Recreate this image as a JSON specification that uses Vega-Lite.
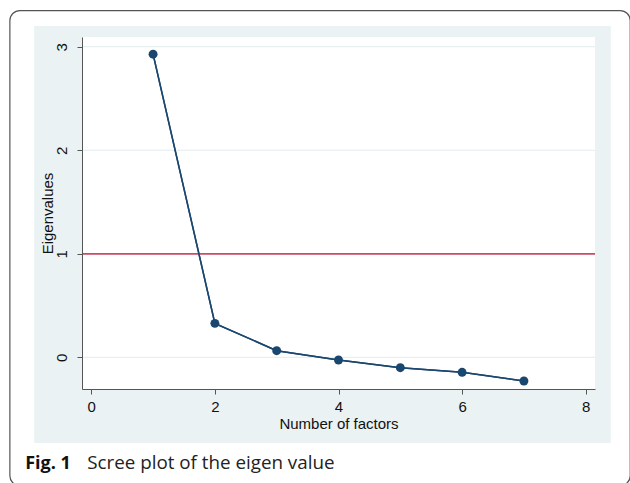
{
  "$schema": "https://vega.github.io/schema/vega-lite/v6.json",
  "width": 513,
  "height": 352,
  "autosize": {"type": "none"},
  "padding": {"left": 82, "top": 37, "right": 35, "bottom": 94},
  "background": "white",
  "config": {"view": {"stroke": null, "fill": null}},
  "datasets": {
    "eigen": [
      {"factor": 1, "eigenvalue": 2.928},
      {"factor": 2, "eigenvalue": 0.328},
      {"factor": 3, "eigenvalue": 0.064},
      {"factor": 4, "eigenvalue": -0.026},
      {"factor": 5, "eigenvalue": -0.100},
      {"factor": 6, "eigenvalue": -0.145},
      {"factor": 7, "eigenvalue": -0.229}
    ],
    "cutoff": [{"eigenvalue": 1}],
    "gridlines": [{"eigenvalue": 0}, {"eigenvalue": 2}, {"eigenvalue": 3}],
    "one": [{}]
  },
  "layer": [
    {
      "data": {"name": "one"},
      "mark": {"type": "rect", "filled": false, "stroke": "#555555", "strokeWidth": 1.2, "cornerRadius": 10},
      "encoding": {
        "x": {"datum": -1.317, "type": "quantitative", "scale": {"domain": [-0.15, 8.15], "nice": false, "zero": false}},
        "x2": {"datum": 8.72},
        "y": {"datum": 3.349, "type": "quantitative", "scale": {"domain": [-0.306, 3.094], "nice": false, "zero": false}},
        "y2": {"datum": -1.24}
      }
    },
    {
      "data": {"name": "one"},
      "mark": {"type": "rect", "fill": "#eaf2f3", "strokeWidth": 0},
      "encoding": {
        "x": {"datum": -0.923, "type": "quantitative", "scale": {"domain": [-0.15, 8.15], "nice": false, "zero": false}},
        "x2": {"datum": 8.405},
        "y": {"datum": 3.201, "type": "quantitative", "scale": {"domain": [-0.306, 3.094], "nice": false, "zero": false}},
        "y2": {"datum": -0.828}
      }
    },
    {
      "data": {"name": "one"},
      "mark": {"type": "rect", "fill": "white", "strokeWidth": 0},
      "encoding": {
        "x": {"datum": -0.15, "type": "quantitative", "scale": {"domain": [-0.15, 8.15], "nice": false, "zero": false}},
        "x2": {"datum": 8.15},
        "y": {"datum": 3.094, "type": "quantitative", "scale": {"domain": [-0.306, 3.094], "nice": false, "zero": false}},
        "y2": {"datum": -0.306}
      }
    },
    {
      "data": {"name": "gridlines"},
      "mark": {"type": "rule", "stroke": "#e2ecee", "strokeWidth": 1},
      "encoding": {
        "y": {"field": "eigenvalue", "type": "quantitative", "scale": {"domain": [-0.306, 3.094], "nice": false, "zero": false}}
      }
    },
    {
      "data": {"name": "eigen"},
      "mark": {"type": "line", "color": "#1a476f", "strokeWidth": 1.5},
      "encoding": {
        "x": {
          "field": "factor", "type": "quantitative",
          "scale": {"domain": [-0.15, 8.15], "nice": false, "zero": false},
          "axis": {
            "title": "Number of factors", "values": [0, 2, 4, 6, 8], "format": "d", "grid": false, "zindex": 1,
            "domainColor": "#555555", "tickColor": "#555555", "tickSize": 5,
            "labelFont": "Liberation Sans", "labelFontSize": 15, "labelColor": "#111111", "labelPadding": 5,
            "titleFont": "Liberation Sans", "titleFontSize": 15, "titleFontWeight": "normal", "titleColor": "#111111", "titlePadding": 2
          }
        },
        "y": {
          "field": "eigenvalue", "type": "quantitative",
          "scale": {"domain": [-0.306, 3.094], "nice": false, "zero": false},
          "axis": {
            "title": "Eigenvalues", "values": [0, 1, 2, 3], "format": "d", "grid": false, "zindex": 1,
            "domainColor": "#555555", "tickColor": "#555555", "tickSize": 5, "labelAngle": -90,
            "labelFont": "Liberation Sans", "labelFontSize": 15, "labelColor": "#111111", "labelPadding": 8,
            "titleFont": "Liberation Sans", "titleFontSize": 15, "titleFontWeight": "normal", "titleColor": "#111111", "titlePadding": -1
          }
        }
      }
    },
    {
      "data": {"name": "cutoff"},
      "mark": {"type": "rule", "stroke": "#cc4a66", "strokeWidth": 1.8},
      "encoding": {
        "y": {"field": "eigenvalue", "type": "quantitative", "scale": {"domain": [-0.306, 3.094], "nice": false, "zero": false}}
      }
    },
    {
      "data": {"name": "eigen"},
      "mark": {"type": "line", "color": "#1a476f", "strokeWidth": 1.5},
      "encoding": {
        "x": {"field": "factor", "type": "quantitative", "scale": {"domain": [-0.15, 8.15], "nice": false, "zero": false}},
        "y": {"field": "eigenvalue", "type": "quantitative", "scale": {"domain": [-0.306, 3.094], "nice": false, "zero": false}}
      }
    },
    {
      "data": {"name": "eigen"},
      "mark": {"type": "point", "filled": true, "color": "#1a476f", "size": 80, "opacity": 1},
      "encoding": {
        "x": {"field": "factor", "type": "quantitative", "scale": {"domain": [-0.15, 8.15], "nice": false, "zero": false}},
        "y": {"field": "eigenvalue", "type": "quantitative", "scale": {"domain": [-0.306, 3.094], "nice": false, "zero": false}}
      }
    },
    {
      "data": {"name": "one"},
      "mark": {"type": "text", "align": "left", "baseline": "alphabetic", "font": "Open Sans", "fontSize": 18, "fontWeight": "bold", "color": "#111111"},
      "encoding": {
        "x": {"datum": -1.069, "type": "quantitative", "scale": {"domain": [-0.15, 8.15], "nice": false, "zero": false}},
        "y": {"datum": -1.079, "type": "quantitative", "scale": {"domain": [-0.306, 3.094], "nice": false, "zero": false}},
        "text": {"value": "Fig. 1"}
      }
    },
    {
      "data": {"name": "one"},
      "mark": {"type": "text", "align": "left", "baseline": "alphabetic", "font": "Open Sans", "fontSize": 18.8, "fontWeight": "normal", "color": "#222222"},
      "encoding": {
        "x": {"datum": -0.065, "type": "quantitative", "scale": {"domain": [-0.15, 8.15], "nice": false, "zero": false}},
        "y": {"datum": -1.079, "type": "quantitative", "scale": {"domain": [-0.306, 3.094], "nice": false, "zero": false}},
        "text": {"value": "Scree plot of the eigen value"}
      }
    }
  ]
}
